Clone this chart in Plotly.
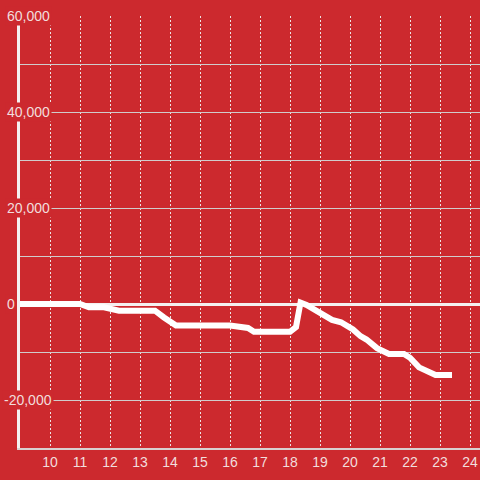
import plotly.graph_objects as go

# Data
x_vals = [9.0, 11.0, 11.3, 11.8, 12.3, 13.5, 13.8, 14.2, 16.0, 16.3, 16.6, 16.8,
          18.0, 18.2, 18.35, 18.55, 18.9, 19.1, 19.4, 19.7, 20.1, 20.35, 20.55,
          20.9, 21.3, 21.8, 22.0, 22.3, 22.55, 22.85, 23.4]
y_vals = [0, 0, -700, -700, -1400, -1400, -2800, -4500, -4500, -4800, -5000, -5800,
          -5800, -4800, 300, -200, -1600, -2100, -3300, -3800, -5300, -6700, -7400,
          -9200, -10400, -10400, -11200, -13200, -13900, -14800, -14800]

x_ticks = list(range(10, 25))
y_tick_vals = [60000, 40000, 20000, 0, -20000]
y_tick_text = ["60,000", "40,000", "20,000", "0", "-20,000"]

BG = "#cc292e"
TXT = "#f2dddd"

fig = go.Figure()
fig.add_trace(go.Scatter(
    x=x_vals, y=y_vals, mode="lines",
    line=dict(color="white", width=6),
    hoverinfo="skip",
))

FW, FH = 480, 480
L, R, T, B = 20, 0, 16, 32
W = FW - L - R

annotations = []
for v, t in zip(y_tick_vals, y_tick_text):
    px = 5 - (3 if t.startswith("-") else 0)
    annotations.append(dict(
        x=(px - L) / W, xref="paper", xanchor="left",
        y=v, yref="y", yanchor="middle",
        text=t, showarrow=False, bgcolor=BG, borderpad=1,
        font=dict(family="Liberation Sans, Arial, sans-serif", size=14, color=TXT),
    ))

fig.update_layout(
    width=FW, height=FH, autosize=False,
    margin=dict(l=L, r=R, t=T, b=B, pad=0),
    paper_bgcolor=BG, plot_bgcolor=BG,
    showlegend=False,
    annotations=annotations,
    font=dict(family="Liberation Sans, Arial, sans-serif", size=14, color=TXT),
    xaxis=dict(
        range=[9, 24.333], tickvals=x_ticks, ticktext=[str(v) for v in x_ticks],
        showgrid=True, gridcolor="#ece4e4", gridwidth=1, griddash="2px,2px",
        showline=True, linecolor="#d8d0d0", linewidth=1.5,
        zeroline=False, ticks="", ticklen=0,
        tickfont=dict(size=14, color=TXT),
        automargin=False,
    ),
    yaxis=dict(
        range=[-30000, 60000], dtick=10000, showticklabels=False,
        showgrid=True, gridcolor="#d0cccc", gridwidth=1,
        zeroline=True, zerolinecolor="#f4f0f0", zerolinewidth=3,
        showline=True, linecolor="#f4f0f0", linewidth=3,
        ticks="", automargin=False,
    ),
)

fig.write_html(
    "out.html",
    config={"displayModeBar": False},
    post_script="document.body.style.margin='0';document.body.style.background='%s';" % BG,
)
